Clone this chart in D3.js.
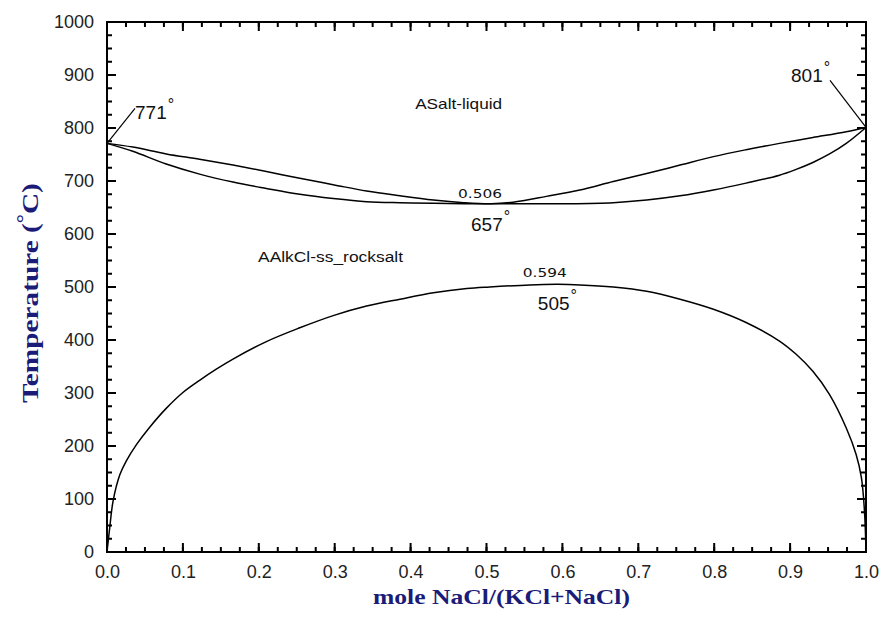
<!DOCTYPE html>
<html lang="en">
  <head>
    <meta charset="UTF-8" />
    <title>KCl-NaCl phase diagram</title>
    <style>
      body { margin: 0; background: #fff; }
      svg { display: block; }
      .tick text { font-family: "Liberation Sans", Arial, sans-serif; font-size: 18px; fill: #222; }
      .axis path { display: none; }
      .curve { fill: none; stroke: #000; stroke-width: 1.5; }
      .note { font-family: "Liberation Sans", Arial, sans-serif; fill: #111; }
      .small { font-family: "DejaVu Sans", Verdana, sans-serif; fill: #111; }
      .title { font-family: "Liberation Serif", "Times New Roman", serif; font-weight: bold; fill: #1b1b78; }
    </style>
  </head>
  <body>
    <div id="chart"></div>

    <script src="https://cdn.jsdelivr.net/npm/d3@7"></script>
    <script>

      // liquid loop: liquidus (upper) and solidus (lower), x = mole NaCl
      var liquidusX = [0, 0.034, 0.078, 0.122, 0.166, 0.21, 0.254, 0.298, 0.342, 0.386, 0.43, 0.47, 0.506,
                       0.535, 0.579, 0.623, 0.667, 0.711, 0.755, 0.799, 0.842, 0.886, 0.93, 0.974, 1.0];
      var liquidusT = [771, 764, 751, 741, 730, 718, 705, 693, 681, 672, 664, 659, 657,
                       660, 671, 683, 699, 714, 730, 746, 759, 771, 782, 793, 801];

      var solidusX = [0, 0.034, 0.078, 0.122, 0.166, 0.21, 0.254, 0.298, 0.342, 0.386, 0.43, 0.47, 0.506,
                      0.535, 0.605, 0.667, 0.711, 0.755, 0.799, 0.842, 0.886, 0.908, 0.93, 0.952, 0.974, 1.0];
      var solidusT = [771, 756, 732, 713, 698, 686, 675, 667, 661, 659, 658, 657, 657,
                      657, 657, 659, 664, 672, 683, 696, 711, 722, 735, 751, 771, 801];

      // rocksalt solid solution miscibility gap
      var solvusX = [0, 0.0036, 0.008, 0.017, 0.0255, 0.039, 0.056, 0.078, 0.1, 0.122, 0.144, 0.166, 0.21,
                     0.254, 0.298, 0.342, 0.386, 0.43, 0.474, 0.504, 0.557, 0.594, 0.623, 0.667, 0.711,
                     0.755, 0.799, 0.842, 0.886, 0.908, 0.93, 0.952, 0.974, 0.987, 0.994, 0.998, 1.0];
      var solvusT = [0, 46, 96, 146, 172, 203, 235, 271, 301, 324, 345, 364, 397,
                     423, 446, 464, 477, 489, 497, 500, 504, 505, 504, 500, 492,
                     477, 458, 433, 398, 373, 341, 297, 234, 184, 140, 77, 0];

      var xTicks = d3.range(0, 1.0001, 0.1);
      var yTicks = d3.range(0, 1001, 100);

      var margin = {top: 22, right: 15, bottom: 65, left: 107};
      var W = 881, H = 617;
      var w = W - margin.left - margin.right,
          h = H - margin.top - margin.bottom;

      var svg = d3.select("#chart").append("svg")
                  .attr("width", W)
                  .attr("height", H);
      var g = svg.append("g")
                 .attr("transform", "translate(" + margin.left + "," + margin.top + ")");

//scales
      var xScale = d3.scaleLinear().domain([0, 1]).range([0, w]);
      var yScale = d3.scaleLinear().domain([0, 1000]).range([h, 0]);

//tick labels via axes
      g.append("g").attr("class", "axis x-axis").attr("transform", "translate(0," + h + ")")
       .call(d3.axisBottom(xScale).tickValues(xTicks).tickSize(0).tickPadding(13).tickFormat(d3.format(".1f")));
      g.append("g").attr("class", "axis y-axis")
       .call(d3.axisLeft(yScale).tickValues(yTicks).tickSize(0).tickPadding(13).tickFormat(d3.format("d")));

//inward tick marks on all four sides
      var tk = g.append("g")
                .attr("stroke", "#000")
                .attr("stroke-width", 2);
      function xMarks(vals, len) {
        tk.selectAll(null).data(vals).enter().append("path")
          .attr("d", function(v) {
            var x = xScale(v);
            return "M" + x + "," + h + "V" + (h - len) + "M" + x + ",0V" + len;
          });
      }
      function yMarks(vals, len) {
        tk.selectAll(null).data(vals).enter().append("path")
          .attr("d", function(v) {
            var y = yScale(v);
            return "M0," + y + "H" + len + "M" + w + "," + y + "H" + (w - len);
          });
      }
      xMarks(d3.range(0, 1.0001, 0.025), 5);
      xMarks(xTicks, 9);
      yMarks(d3.range(0, 1001, 25), 5);
      yMarks(yTicks, 9);

//frame
      g.append("rect")
       .attr("x", 0).attr("y", 0)
       .attr("width", w).attr("height", h)
       .attr("fill", "none")
       .attr("stroke", "#000")
       .attr("stroke-width", 2);

//curves
      var line = d3.line()
                   .x(function(d) { return xScale(d[0]); })
                   .y(function(d) { return yScale(d[1]); })
                   .curve(d3.curveCatmullRom.alpha(0.5));

      [[liquidusX, liquidusT], [solidusX, solidusT], [solvusX, solvusT]].forEach(function(s) {
        g.append("path")
         .attr("class", "curve")
         .attr("d", line(d3.zip(s[0], s[1])));
      });

//melting point leaders
      var leaders = [
        {x: 0, t: 771, dx: 28, dy: -35},
        {x: 1, t: 801, dx: -36, dy: -47}
      ];
      leaders.forEach(function(d) {
        g.append("line")
         .attr("x1", xScale(d.x)).attr("y1", yScale(d.t))
         .attr("x2", xScale(d.x) + d.dx).attr("y2", yScale(d.t) + d.dy)
         .attr("stroke", "#000").attr("stroke-width", 1.2);
      });

//labels
      function degLabel(x, y, txt, size) {
        var t = g.append("text")
                 .attr("class", "note")
                 .attr("x", x).attr("y", y)
                 .style("font-size", size + "px");
        t.append("tspan").text(txt);
        t.append("tspan").attr("dy", -9).attr("dx", 1).style("font-size", (size - 3) + "px").text("°");
      }
      degLabel(xScale(0) + 28, yScale(771) - 24, "771", 19);
      degLabel(xScale(1) - 75, yScale(801) - 45, "801", 19);
      degLabel(xScale(0.506) - 20, yScale(657) + 27, "657", 19);
      degLabel(xScale(0.594) - 20, yScale(505) + 26, "505", 19);

      g.append("text").attr("class", "small")
       .attr("x", xScale(0.506) - 33).attr("y", yScale(657) - 6)
       .attr("textLength", 44).attr("lengthAdjust", "spacingAndGlyphs")
       .style("font-size", "13px").text("0.506");
      g.append("text").attr("class", "small")
       .attr("x", xScale(0.594) - 35).attr("y", yScale(505) - 7)
       .attr("textLength", 44).attr("lengthAdjust", "spacingAndGlyphs")
       .style("font-size", "13px").text("0.594");

      g.append("text").attr("class", "note")
       .attr("x", xScale(0.406)).attr("y", yScale(835))
       .attr("textLength", 87).attr("lengthAdjust", "spacingAndGlyphs")
       .style("font-size", "15px").text("ASalt-liquid");
      g.append("text").attr("class", "note")
       .attr("x", xScale(0.199)).attr("y", yScale(548))
       .attr("textLength", 145).attr("lengthAdjust", "spacingAndGlyphs")
       .style("font-size", "15.5px").text("AAlkCl-ss_rocksalt");

//axis titles
      svg.append("text")
         .attr("class", "title")
         .attr("x", 373).attr("y", 604)
         .attr("textLength", 257).attr("lengthAdjust", "spacingAndGlyphs")
         .style("font-size", "22px")
         .text("mole NaCl/(KCl+NaCl)");
      var yt = svg.append("text")
                  .attr("class", "title")
                  .style("font-size", "23px");
      yt.append("tspan").text("Temperature (");
      yt.append("tspan").attr("dy", -8).style("font-size", "18px").text("°");
      yt.append("tspan").attr("dy", 8).text("C)");
      var ytLen = yt.node().getComputedTextLength();
      yt.attr("transform", "translate(38,403)rotate(-90)scale(" + (220 / ytLen) + ",1)");

    </script>
  </body>
</html>
